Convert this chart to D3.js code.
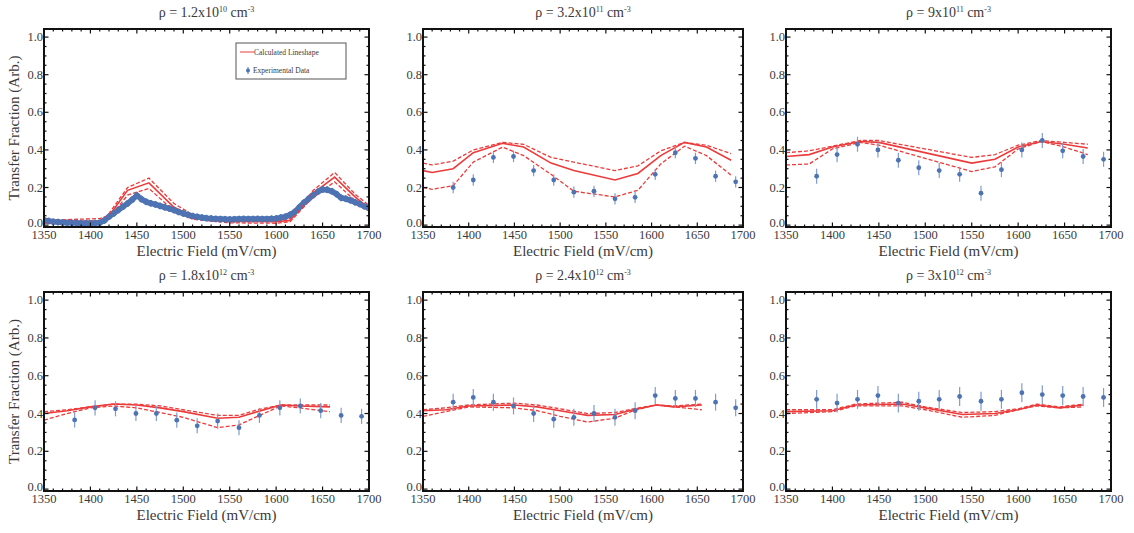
<!DOCTYPE html>
<html><head><meta charset="utf-8">
<script src="https://cdn.jsdelivr.net/npm/d3@7"></script>
<style>body{margin:0;background:#fff}svg{display:block}</style>
</head><body>
<svg id="c" width="1134" height="533" font-family="'Liberation Serif', 'Times New Roman', Times, serif"></svg>
<script>
// ---------- data ----------
const xTicks = [1350,1400,1450,1500,1550,1600,1650,1700];
const yTicks = [0.0,0.2,0.4,0.6,0.8,1.0];
const titles = [
  ["1.2","10"],["3.2","11"],["9","11"],["1.8","12"],["2.4","12"],["3","12"]
];
const xLabel = "Electric Field (mV/cm)";
const yLabel = "Transfer Fraction (Arb.)";
const legendLabels = ["Calculated Lineshape","Experimental Data"];

// panel 1 (dense experimental scan)
const p1ExpX = [1350,1355,1360,1365,1370,1375,1380,1385,1390,1395,1400,1405,1410,1415,1420,1425,1430,1435,1440,1445,1450,1455,1460,1465,1470,1475,1480,1485,1490,1495,1500,1505,1510,1515,1520,1525,1530,1535,1540,1545,1550,1555,1560,1565,1570,1575,1580,1585,1590,1595,1600,1605,1610,1615,1620,1625,1630,1635,1640,1645,1650,1655,1660,1665,1670,1675,1680,1685,1690,1695,1700];
const p1ExpY = [0.026,0.022,0.018,0.016,0.014,0.012,0.012,0.011,0.010,0.010,0.010,0.011,0.012,0.025,0.045,0.062,0.080,0.098,0.115,0.135,0.158,0.138,0.124,0.116,0.110,0.102,0.095,0.088,0.080,0.070,0.062,0.055,0.048,0.044,0.040,0.037,0.035,0.033,0.032,0.031,0.030,0.031,0.032,0.033,0.032,0.032,0.033,0.032,0.032,0.034,0.035,0.040,0.045,0.055,0.070,0.095,0.120,0.140,0.160,0.178,0.190,0.188,0.180,0.165,0.145,0.140,0.132,0.122,0.112,0.100,0.090];
const p1CalcX  = [1350,1410,1418,1440,1463,1490,1510,1550,1600,1615,1640,1663,1685,1700];
const p1Calc   = [0.018,0.022,0.035,0.185,0.225,0.095,0.045,0.020,0.018,0.025,0.170,0.255,0.150,0.090];
const p1CalcHi = [0.025,0.035,0.048,0.200,0.250,0.115,0.055,0.030,0.025,0.035,0.185,0.280,0.165,0.105];
const p1CalcLo = [0.010,0.015,0.022,0.160,0.195,0.075,0.032,0.012,0.010,0.018,0.150,0.230,0.130,0.075];

// panels 2-6 share experimental field points
const expX = [1383,1405,1427,1449,1471,1493,1515,1537,1560,1582,1604,1626,1648,1670,1692];

const p2ExpY = [0.20,0.24,0.36,0.365,0.29,0.24,0.175,0.18,0.14,0.148,0.27,0.385,0.355,0.26,0.23];
const p2CalcX  = [1350,1360,1383,1405,1437,1460,1490,1515,1560,1585,1610,1636,1660,1687];
const p2Calc   = [0.29,0.28,0.30,0.385,0.435,0.415,0.33,0.29,0.24,0.275,0.37,0.44,0.415,0.345];
const p2CalcHi = [0.33,0.32,0.34,0.40,0.44,0.43,0.36,0.335,0.29,0.315,0.395,0.44,0.425,0.38];
const p2CalcLo = [0.20,0.19,0.21,0.335,0.415,0.37,0.27,0.18,0.15,0.185,0.325,0.42,0.37,0.265];

const p3ExpY = [0.26,0.375,0.43,0.40,0.345,0.305,0.29,0.27,0.17,0.295,0.40,0.45,0.395,0.365,0.35];
const p3CalcX  = [1350,1375,1400,1430,1450,1550,1575,1600,1625,1650,1675];
const p3Calc   = [0.365,0.375,0.415,0.445,0.44,0.33,0.35,0.415,0.445,0.43,0.41];
const p3CalcHi = [0.385,0.395,0.42,0.45,0.45,0.36,0.375,0.425,0.45,0.44,0.43];
const p3CalcLo = [0.32,0.325,0.405,0.44,0.425,0.285,0.31,0.405,0.445,0.415,0.375];

const p4ExpY = [0.366,0.43,0.425,0.40,0.40,0.365,0.335,0.36,0.325,0.39,0.43,0.44,0.415,0.39,0.385];
const p4CalcX  = [1350,1375,1400,1425,1450,1475,1500,1537,1560,1580,1605,1625,1658];
const p4Calc   = [0.40,0.415,0.435,0.45,0.445,0.43,0.41,0.375,0.38,0.41,0.445,0.44,0.435];
const p4CalcHi = [0.41,0.42,0.435,0.45,0.45,0.44,0.42,0.39,0.39,0.42,0.445,0.445,0.445];
const p4CalcLo = [0.365,0.40,0.43,0.44,0.43,0.405,0.38,0.325,0.34,0.385,0.44,0.43,0.41];

const p5ExpY = [0.46,0.485,0.46,0.44,0.40,0.37,0.38,0.40,0.38,0.415,0.495,0.48,0.48,0.46,0.43];
const p5CalcX  = [1350,1375,1400,1450,1475,1500,1530,1560,1580,1605,1625,1655];
const p5Calc   = [0.415,0.42,0.44,0.445,0.435,0.415,0.39,0.395,0.42,0.445,0.435,0.445];
const p5CalcHi = [0.42,0.43,0.445,0.455,0.445,0.425,0.40,0.405,0.425,0.445,0.44,0.45];
const p5CalcLo = [0.385,0.41,0.435,0.43,0.415,0.385,0.355,0.375,0.415,0.445,0.435,0.42];

const p6ExpY = [0.475,0.455,0.475,0.495,0.455,0.465,0.475,0.49,0.465,0.475,0.51,0.50,0.495,0.49,0.485];
const p6CalcX  = [1350,1400,1425,1475,1500,1540,1575,1600,1620,1645,1670];
const p6Calc   = [0.41,0.415,0.445,0.45,0.43,0.395,0.40,0.42,0.445,0.43,0.445];
const p6CalcHi = [0.42,0.42,0.45,0.46,0.435,0.405,0.41,0.425,0.45,0.435,0.45];
const p6CalcLo = [0.40,0.41,0.44,0.44,0.42,0.38,0.39,0.42,0.44,0.43,0.435];

const errSmall = 0.018, err2 = 0.03, err3 = 0.04, err4 = 0.04, err5 = 0.045, err6 = 0.05;

// ---------- layout ----------
const cols = [[44,369],[423,743],[786,1111]];
const rows = [[29,227],[292,491]];
const panels = [
  {c:0,r:0,ex:p1ExpX,ey:p1ExpY,err:errSmall,cx:p1CalcX,cm:p1Calc,ch:p1CalcHi,cl:p1CalcLo,dense:true,legend:true},
  {c:1,r:0,ex:expX,ey:p2ExpY,err:err2,cx:p2CalcX,cm:p2Calc,ch:p2CalcHi,cl:p2CalcLo},
  {c:2,r:0,ex:expX,ey:p3ExpY,err:err3,cx:p3CalcX,cm:p3Calc,ch:p3CalcHi,cl:p3CalcLo},
  {c:0,r:1,ex:expX,ey:p4ExpY,err:err4,cx:p4CalcX,cm:p4Calc,ch:p4CalcHi,cl:p4CalcLo},
  {c:1,r:1,ex:expX,ey:p5ExpY,err:err5,cx:p5CalcX,cm:p5Calc,ch:p5CalcHi,cl:p5CalcLo},
  {c:2,r:1,ex:expX,ey:p6ExpY,err:err6,cx:p6CalcX,cm:p6Calc,ch:p6CalcHi,cl:p6CalcLo},
];
const RED = "#ec3b3b", BLUE = "#4d73b3", BLUE_ERR = "#7f9ccc", TXT = "#3a3a3a";
const svg = d3.select("#c");

panels.forEach((p,i) => {
  const [x0,x1] = cols[p.c], [y0,y1] = rows[p.r];
  const x = d3.scaleLinear().domain([1350,1700]).range([x0,x1]);
  const y = d3.scaleLinear().domain([-0.01,1.043]).range([y1,y0]);
  const g = svg.append("g");

  const cid = "clip"+i;
  svg.append("clipPath").attr("id",cid).append("rect").attr("x",x0).attr("y",y0).attr("width",x1-x0).attr("height",y1-y0);
  const plot = g.append("g").attr("clip-path",`url(#${cid})`);

  const pts = p.ex.map((v,j)=>({x:v,y:p.ey[j]}));
  // dense scan drawn as a thick band under the lines
  if (p.dense) {
    plot.append("path").attr("d",d3.line().x(d=>x(d.x)).y(d=>y(d.y))(pts))
      .attr("fill","none").attr("stroke",BLUE).attr("stroke-width",5.5).attr("stroke-linejoin","round");
  }

  const mk = arr => d3.line().x((d,j)=>x(p.cx[j])).y(d=>y(d))(arr);
  plot.append("path").attr("d",mk(p.ch)).attr("fill","none").attr("stroke",RED).attr("stroke-width",1.3).attr("stroke-dasharray","4,2");
  plot.append("path").attr("d",mk(p.cl)).attr("fill","none").attr("stroke",RED).attr("stroke-width",1.3).attr("stroke-dasharray","4,2");
  plot.append("path").attr("d",mk(p.cm)).attr("fill","none").attr("stroke",RED).attr("stroke-width",1.6);

  plot.selectAll(".eb").data(pts).enter().append("line")
    .attr("x1",d=>x(d.x)).attr("x2",d=>x(d.x))
    .attr("y1",d=>y(d.y-p.err)).attr("y2",d=>y(d.y+p.err))
    .attr("stroke",p.dense?BLUE:BLUE_ERR).attr("stroke-width",p.dense?2:1.2);
  plot.selectAll(".pt").data(pts).enter().append("circle")
    .attr("cx",d=>x(d.x)).attr("cy",d=>y(d.y)).attr("r",p.dense?3:2.4)
    .attr("fill",BLUE);

  // ticks (inward, all four sides)
  const minorX = d3.range(1350,1701,10), minorY = d3.range(0,1.0001,0.05);
  const tk = g.append("g").attr("stroke","#111");
  minorX.forEach(v=>{
    const major = (Math.round(v)%50===0), L = major?4.5:2.5;
    tk.append("line").attr("x1",x(v)).attr("x2",x(v)).attr("y1",y1).attr("y2",y1-L).attr("stroke-width",1.2);
    tk.append("line").attr("x1",x(v)).attr("x2",x(v)).attr("y1",y0).attr("y2",y0+L).attr("stroke-width",1.2);
  });
  minorY.forEach(v=>{
    const major = Math.abs(v*5-Math.round(v*5))<1e-6, L = major?4.5:2.5;
    tk.append("line").attr("x1",x0).attr("x2",x0+L).attr("y1",y(v)).attr("y2",y(v)).attr("stroke-width",1.2);
    tk.append("line").attr("x1",x1).attr("x2",x1-L).attr("y1",y(v)).attr("y2",y(v)).attr("stroke-width",1.2);
  });

  g.append("rect").attr("x",x0).attr("y",y0).attr("width",x1-x0).attr("height",y1-y0)
    .attr("fill","none").attr("stroke","#111").attr("stroke-width",2);

  g.selectAll(".xl").data(xTicks).enter().append("text")
    .attr("x",d=>x(d)).attr("y",y1+12).attr("text-anchor","middle").attr("font-size",12.5).attr("fill",TXT).text(d=>d);
  g.selectAll(".yl").data(yTicks).enter().append("text")
    .attr("x",x0-1).attr("y",d=>y(d)+(d===0?2:4)).attr("text-anchor","end").attr("font-size",12.5).attr("fill",TXT).text(d=>d.toFixed(1));

  g.append("text").attr("x",(x0+x1)/2).attr("y",y1+29).attr("text-anchor","middle").attr("font-size",15).attr("fill",TXT).text(xLabel);
  if (p.c===0) {
    g.append("text").attr("transform",`translate(${x0-25},${(y0+y1)/2}) rotate(-90)`)
      .attr("text-anchor","middle").attr("font-size",15).attr("fill",TXT).text(yLabel);
  }

  const t = g.append("text").attr("x",(x0+x1)/2).attr("y",y0-12).attr("text-anchor","middle").attr("font-size",14).attr("fill",TXT);
  t.append("tspan").text(`ρ = ${titles[i][0]}x10`);
  t.append("tspan").attr("font-size",8).attr("dy",-5).text(titles[i][1]);
  t.append("tspan").attr("dy",5).text(" cm");
  t.append("tspan").attr("font-size",8).attr("dy",-5).text("-3");

  if (p.legend) {
    const lg = g.append("g");
    lg.append("rect").attr("x",236).attr("y",43).attr("width",110).attr("height",36)
      .attr("fill","#fff").attr("stroke","#555").attr("stroke-width",1);
    lg.append("line").attr("x1",240).attr("x2",254).attr("y1",52).attr("y2",52).attr("stroke",RED).attr("stroke-width",1);
    lg.append("text").attr("x",254).attr("y",54.5).attr("font-size",7.5).attr("fill",TXT).text(legendLabels[0]);
    lg.append("line").attr("x1",248).attr("x2",248).attr("y1",67).attr("y2",74).attr("stroke",BLUE).attr("stroke-width",1);
    lg.append("circle").attr("cx",248).attr("cy",70.5).attr("r",2).attr("fill",BLUE);
    lg.append("text").attr("x",253).attr("y",73).attr("font-size",7.5).attr("fill",TXT).text(legendLabels[1]);
  }
});
</script>
</body></html>
